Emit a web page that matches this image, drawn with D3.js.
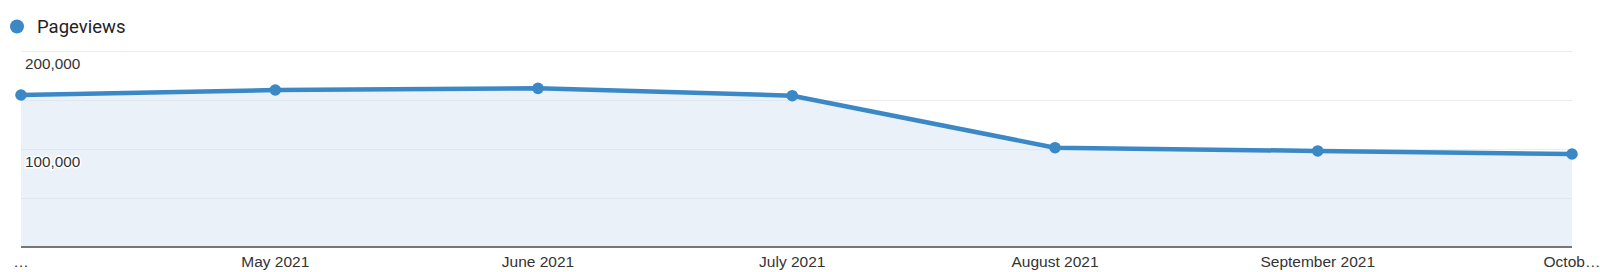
<!DOCTYPE html>
<html>
<head>
<meta charset="utf-8">
<script src="https://cdn.jsdelivr.net/npm/d3@7"></script>
<style>
  body { margin: 0; background: #fff; }
  svg { display: block; }
</style>
</head>
<body>
<div id="chart"></div>
<script>
// Plot constants
const WIDTH = 1600;
const HEIGHT = 272;

// data
const months = ["2021-04-01", "2021-05-01", "2021-06-01", "2021-07-01", "2021-08-01", "2021-09-01", "2021-10-01"];
const pageviews = [155100, 160200, 161900, 154400, 101300, 98000, 94900];
const tickLabels = ["…", "May 2021", "June 2021", "July 2021", "August 2021", "September 2021", "Octob…"];
const yTicks = [0, 50000, 100000, 150000, 200000];
const yLabelTicks = [100000, 200000];
const seriesName = "Pageviews";

const BLUE = "#3b88c6";
const parse = d3.timeParse("%Y-%m-%d");
const data = months.map((m, i) => ({date: parse(m), value: pageviews[i]}));

const svg = d3.select("#chart")
  .append("svg")
  .attr("width", WIDTH)
  .attr("height", HEIGHT);

const x = d3.scaleTime()
  .domain(d3.extent(data, d => d.date))
  .range([21, 1572]);

const y = d3.scaleLinear()
  .domain([0, 200000])
  .range([247, 51]);

// legend
svg.append("circle")
  .attr("cx", 17).attr("cy", 26.5).attr("r", 7)
  .attr("fill", BLUE);
svg.append("text")
  .attr("x", 37).attr("y", 33)
  .attr("font-family", "Roboto, sans-serif")
  .attr("font-size", "18.5px")
  .attr("fill", "#222")
  .text(seriesName);

// gridlines
svg.append("g")
  .selectAll("line")
  .data(yTicks.filter(d => d > 0))
  .join("line")
  .attr("x1", x.range()[0]).attr("x2", x.range()[1])
  .attr("y1", d => y(d) + 0.5).attr("y2", d => y(d) + 0.5)
  .attr("stroke", "#ececec")
  .attr("stroke-width", 1.2);

// area under the line
const area = d3.area()
  .x(d => x(d.date))
  .y0(y(0))
  .y1(d => y(d.value));

svg.append("path")
  .datum(data)
  .attr("d", area)
  .attr("fill", "#eaf1f9");

// gridlines inside the area (slightly darker over fill)
svg.append("g")
  .selectAll("line")
  .data(yTicks.filter(d => d > 0 && d <= 150000))
  .join("line")
  .attr("x1", x.range()[0]).attr("x2", x.range()[1])
  .attr("y1", d => y(d) + 0.5).attr("y2", d => y(d) + 0.5)
  .attr("stroke", "#dfe6ee")
  .attr("stroke-width", 1)
  .attr("clip-path", "url(#areaClip)");

svg.append("clipPath")
  .attr("id", "areaClip")
  .append("path")
  .datum(data)
  .attr("d", area);

// baseline
svg.append("line")
  .attr("x1", x.range()[0]).attr("x2", x.range()[1])
  .attr("y1", y(0)).attr("y2", y(0))
  .attr("stroke", "#777")
  .attr("stroke-width", 2);

// line
svg.append("path")
  .datum(data)
  .attr("d", d3.line().x(d => x(d.date)).y(d => y(d.value)))
  .attr("fill", "none")
  .attr("stroke", BLUE)
  .attr("stroke-width", 4.5)
  .attr("stroke-linejoin", "round");

// points
svg.append("g")
  .selectAll("circle")
  .data(data)
  .join("circle")
  .attr("cx", d => x(d.date))
  .attr("cy", d => y(d.value))
  .attr("r", 5.8)
  .attr("fill", BLUE);

// y labels, inside the plot, just under their gridline
svg.append("g")
  .selectAll("text")
  .data(yLabelTicks)
  .join("text")
  .attr("x", 25)
  .attr("y", d => y(d) + 18)
  .attr("font-family", "Arial, 'Liberation Sans', sans-serif")
  .attr("font-size", "15.3px")
  .attr("fill", "#333")
  .attr("stroke", "#fff")
  .attr("stroke-width", 3)
  .attr("paint-order", "stroke")
  .text(d => d3.format(",")(d));

// x labels
svg.append("g")
  .selectAll("text")
  .data(data)
  .join("text")
  .attr("x", d => x(d.date))
  .attr("y", 267)
  .attr("text-anchor", "middle")
  .attr("font-family", "Arial, 'Liberation Sans', sans-serif")
  .attr("font-size", "15.5px")
  .attr("fill", "#333")
  .text((d, i) => tickLabels[i]);
</script>
</body>
</html>
